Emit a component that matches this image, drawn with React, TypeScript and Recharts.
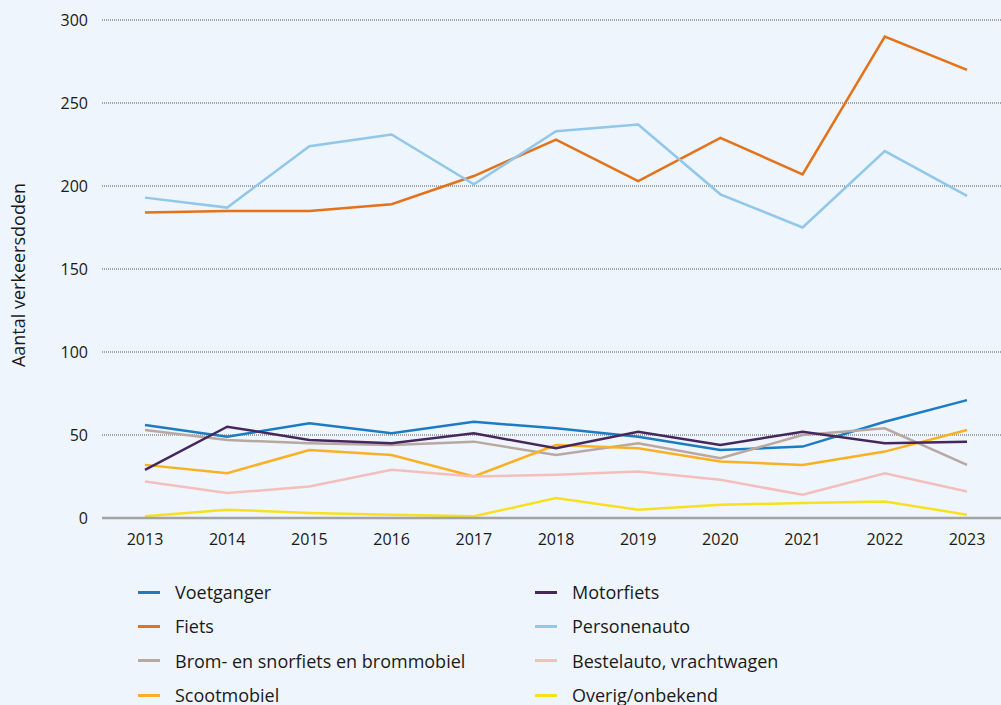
import { LineChart, Line, XAxis, YAxis, CartesianGrid } from "recharts"

const YEARS = ["2013", "2014", "2015", "2016", "2017", "2018", "2019", "2020", "2021", "2022", "2023"]

const VOETGANGER = [56, 49, 57, 51, 58, 54, 49, 41, 43, 58, 71]
const FIETS = [184, 185, 185, 189, 206, 228, 203, 229, 207, 290, 270]
const BROM = [53, 47, 45, 44, 46, 38, 45, 36, 50, 54, 32]
const SCOOTMOBIEL = [32, 27, 41, 38, 25, 44, 42, 34, 32, 40, 53]
const MOTORFIETS = [29, 55, 47, 45, 51, 42, 52, 44, 52, 45, 46]
const PERSONENAUTO = [193, 187, 224, 231, 201, 233, 237, 195, 175, 221, 194]
const BESTELAUTO = [22, 15, 19, 29, 25, 26, 28, 23, 14, 27, 16]
const OVERIG = [1, 5, 3, 2, 1, 12, 5, 8, 9, 10, 2]

const Y_TICKS = [0, 50, 100, 150, 200, 250, 300]

const SERIES = [
  { key: "voetganger", name: "Voetganger", color: "#1b7cc3", values: VOETGANGER },
  { key: "fiets", name: "Fiets", color: "#e4721b", values: FIETS },
  { key: "brom", name: "Brom- en snorfiets en brommobiel", color: "#b9a7a2", values: BROM },
  { key: "scootmobiel", name: "Scootmobiel", color: "#fbb024", values: SCOOTMOBIEL },
  { key: "motorfiets", name: "Motorfiets", color: "#45275e", values: MOTORFIETS },
  { key: "personenauto", name: "Personenauto", color: "#91c7ea", values: PERSONENAUTO },
  { key: "bestelauto", name: "Bestelauto, vrachtwagen", color: "#f4bfba", values: BESTELAUTO },
  { key: "overig", name: "Overig/onbekend", color: "#f8e11c", values: OVERIG },
]

const data = YEARS.map((year, i) => {
  const row: Record<string, string | number> = { year }
  SERIES.forEach((s) => {
    row[s.key] = s.values[i]
  })
  return row
})

const FONT = "'Open Sans', sans-serif"
const BG = "#eef5fc"

function AxisTitle({ viewBox }: any) {
  const cx = viewBox.x + 18
  const cy = viewBox.y + viewBox.height / 2 + 6
  return (
    <text
      x={cx}
      y={cy}
      transform={`rotate(-90, ${cx}, ${cy})`}
      textAnchor="middle"
      dominantBaseline="central"
      fill="#1a1a1a"
      fontSize={18}
      fontFamily={FONT}
    >
      Aantal verkeersdoden
    </text>
  )
}

function LegendBlock() {
  const cols = [SERIES.slice(0, 4), SERIES.slice(4)]
  return (
    <div style={{ position: "absolute", top: 575, left: 138, display: "flex", fontFamily: FONT }}>
      {cols.map((col, ci) => (
        <div key={ci} style={{ width: 397 }}>
          {col.map((s) => (
            <div key={s.key} style={{ display: "flex", alignItems: "center", height: 34.3 }}>
              <span style={{ display: "inline-block", width: 22, height: 3, background: s.color, marginRight: 15 }} />
              <span style={{ fontSize: 18, color: "#1a1a1a" }}>{s.name}</span>
            </div>
          ))}
        </div>
      ))}
    </div>
  )
}

export default function App() {
  return (
    <div style={{ position: "relative", width: 1001, height: 705, background: BG, overflow: "hidden" }}>
      <style>{`body{margin:0;background:${BG};}`}</style>
      <LineChart width={1001} height={560} data={data} margin={{ top: 20, right: 0, left: 0, bottom: 12 }}>
        <CartesianGrid vertical={false} stroke="#555" strokeDasharray="1 1" />
        <XAxis
          dataKey="year"
          height={30}
          padding={{ left: 43, right: 34 }}
          axisLine={{ stroke: "#a3a3a3", strokeWidth: 2.5 }}
          tickLine={false}
          tickMargin={10}
          tick={{ fill: "#1a1a1a", fontSize: 16, fontFamily: FONT }}
        />
        <YAxis
          width={102}
          domain={[0, 300]}
          ticks={Y_TICKS}
          axisLine={false}
          tickLine={false}
          tickSize={0}
          tickMargin={14}
          tick={{ fill: "#1a1a1a", fontSize: 16, fontFamily: FONT }}
          label={{ content: AxisTitle }}
        />
        {SERIES.map((s) => (
          <Line
            key={s.key}
            type="linear"
            dataKey={s.key}
            name={s.name}
            stroke={s.color}
            strokeWidth={2.5}
            dot={false}
            activeDot={false}
            isAnimationActive={false}
          />
        ))}
      </LineChart>
      <LegendBlock />
    </div>
  )
}
